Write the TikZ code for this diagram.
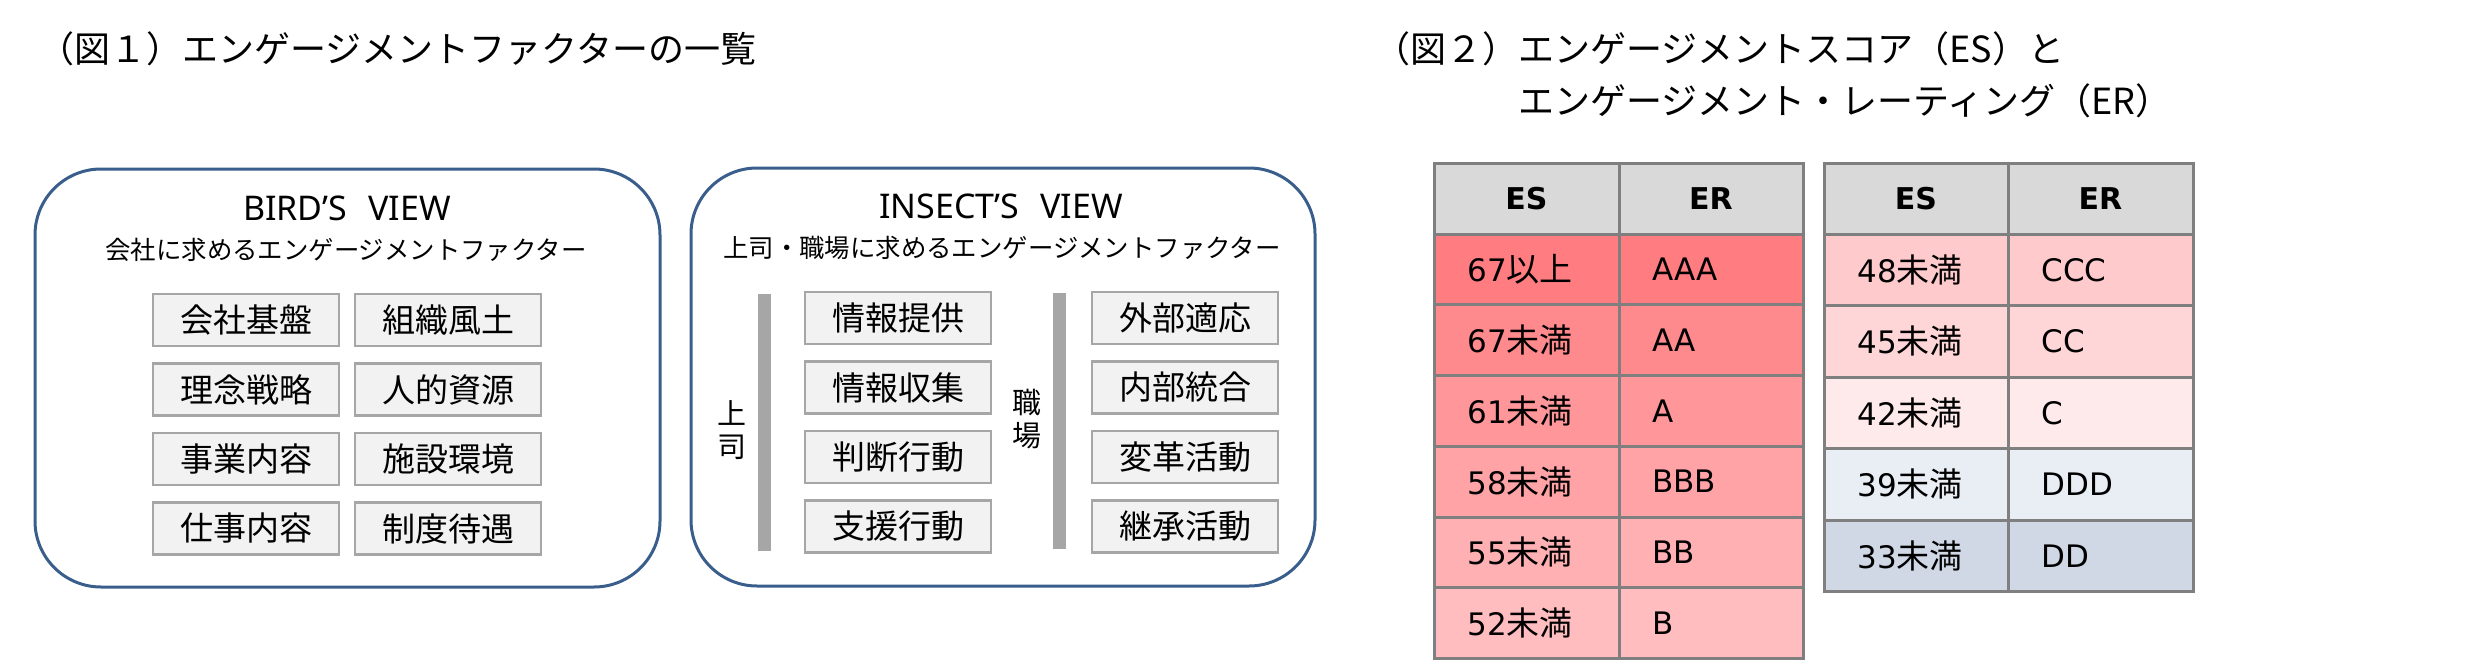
\documentclass[tikz,border=0pt]{standalone}
\usepackage{fontspec}
\newfontfamily\jpf{Noto Sans CJK JP}
\newfontfamily\latf{Noto Sans}
\newfontfamily\dvf{DejaVu Sans}
\definecolor{boxblue}{HTML}{3A5E8C}
\definecolor{boxgray}{HTML}{A6A6A6}
\definecolor{boxfill}{HTML}{F2F2F2}
\definecolor{bargray}{HTML}{A6A6A6}
\definecolor{tblgray}{HTML}{7F7F7F}
\definecolor{hdr}{HTML}{D9D9D9}
\definecolor{r1}{HTML}{FF7C80}
\definecolor{r2}{HTML}{FF8A8E}
\definecolor{r3}{HTML}{FF979A}
\definecolor{r4}{HTML}{FFA3A6}
\definecolor{r5}{HTML}{FFB0B3}
\definecolor{r6}{HTML}{FFBDBF}
\definecolor{r7}{HTML}{FFCACC}
\definecolor{r8}{HTML}{FFD6D7}
\definecolor{r9}{HTML}{FFEAEB}
\definecolor{r10}{HTML}{E9EDF4}
\definecolor{r11}{HTML}{D0D8E6}
\begin{document}
\begin{tikzpicture}[x=0.5pt,y=-0.5pt,
  outerbox/.style={draw=boxblue, line width=1.5pt, rounded corners=33pt, inner sep=0pt, minimum height=209pt},
  factor/.style={draw=boxgray, fill=boxfill, line width=1.1pt, minimum width=93pt, minimum height=26pt, inner sep=0pt, font=\jpf\fontsize{16.5pt}{18pt}\selectfont},
  vbar/.style={fill=bargray, draw=none, inner sep=0pt, minimum width=6.5pt},
  viewtitle/.style={anchor=base, inner sep=0pt, font=\latf\fontsize{17pt}{18pt}\selectfont},
  viewsub/.style={anchor=base, inner sep=0pt, font=\jpf\fontsize{12.7pt}{14pt}\selectfont},
  sidelabel/.style={inner sep=0pt, align=center, font=\jpf\fontsize{14.5pt}{16.5pt}\selectfont},
  maintitle/.style={anchor=base west, inner sep=0pt, font=\jpf\fontsize{18pt}{20pt}\selectfont},
  cell/.style={draw=tblgray, line width=1.5pt, inner sep=0pt},
  hcell/.style={cell, fill=hdr, minimum height=35.5pt, font=\dvf\bfseries\fontsize{15pt}{18pt}\selectfont},
  celltext/.style={anchor=west, inner sep=0pt, font=\dvf\fontsize{15.5pt}{18pt}\selectfont}
]
\useasboundingbox (0,0) rectangle (2475,669);

% titles
\node[maintitle] (title1) at (38,62) {（図１）エンゲージメントファクターの一覧};
\node[maintitle] (title2a) at (1374,62) {（図２）エンゲージメントスコア（ES）と};
\node[maintitle] (title2b) at (1518,114) {エンゲージメント・レーティング（ER）};

% outer boxes
\node[outerbox, minimum width=312.5pt] (bird) at (347.5,378) {};
\node[outerbox, minimum width=312pt] (insect) at (1003,377) {};

\node[viewtitle] (birdtitle) at (347,220) {BIRD’S\hspace{10.5pt}VIEW};
\node[viewsub] (birdsub) at (346,259) {会社に求めるエンゲージメントファクター};
\node[viewtitle] (insecttitle) at (1001,218) {INSECT’S\hspace{10.5pt}VIEW};
\node[viewsub] (insectsub) at (1002,257) {上司・職場に求めるエンゲージメントファクター};

% bird factors
\node[factor] (b11) at (246,320) {会社基盤};
\node[factor] (b12) at (448,320) {組織風土};
\node[factor] (b21) at (246,389.5) {理念戦略};
\node[factor] (b22) at (448,389.5) {人的資源};
\node[factor] (b31) at (246,459) {事業内容};
\node[factor] (b32) at (448,459) {施設環境};
\node[factor] (b41) at (246,528.5) {仕事内容};
\node[factor] (b42) at (448,528.5) {制度待遇};

% insect factors
\node[vbar, minimum height=128.5pt] (bossbar) at (764,422.5) {};
\node[sidelabel] (bosslabel) at (732,430) {上\\司};
\node[vbar, minimum height=128pt] (workbar) at (1059,421) {};
\node[sidelabel] (worklabel) at (1027,419) {職\\場};

\node[factor] (i11) at (898,318) {情報提供};
\node[factor] (i21) at (898,387.5) {情報収集};
\node[factor] (i31) at (898,457) {判断行動};
\node[factor] (i41) at (898,526.5) {支援行動};
\node[factor] (i12) at (1185,318) {外部適応};
\node[factor] (i22) at (1185,387.5) {内部統合};
\node[factor] (i32) at (1185,457) {変革活動};
\node[factor] (i42) at (1185,526.5) {継承活動};

% left table
\node[hcell, minimum width=92.5pt] (Lh1) at (1526.5,198.5) {ES};
\node[hcell, minimum width=92pt] (Lh2) at (1711,198.5) {ER};
\foreach \ii/\cc/\nn/\kk/\rr in {1/r1/67/以上/AAA,2/r2/67/未満/AA,3/r3/61/未満/A,4/r4/58/未満/BBB,5/r5/55/未満/BB,6/r6/52/未満/B}{
  \node[cell, fill=\cc, minimum width=92.5pt, minimum height=35.375pt] (Les\ii) at (1526.5,{234+(\ii-0.5)*70.75}) {};
  \node[cell, fill=\cc, minimum width=92pt, minimum height=35.375pt] (Ler\ii) at (1711,{234+(\ii-0.5)*70.75}) {};
  \node[celltext] (Lest\ii) at (1467,{234+(\ii-0.5)*70.75}) {\nn{\jpf\fontsize{16.5pt}{18pt}\selectfont\kk}};
  \node[celltext] (Lert\ii) at (1652,{234+(\ii-0.5)*70.75}) {\rr};
}

% right table
\node[hcell, minimum width=92pt] (Rh1) at (1916,198.5) {ES};
\node[hcell, minimum width=92.5pt] (Rh2) at (2100.5,198.5) {ER};
\foreach \ii/\cc/\nn/\kk/\rr in {1/r7/48/未満/CCC,2/r8/45/未満/CC,3/r9/42/未満/C,4/r10/39/未満/DDD,5/r11/33/未満/DD}{
  \node[cell, fill=\cc, minimum width=92pt, minimum height=35.75pt] (Res\ii) at (1916,{234+(\ii-0.5)*71.5}) {};
  \node[cell, fill=\cc, minimum width=92.5pt, minimum height=35.75pt] (Rer\ii) at (2100.5,{234+(\ii-0.5)*71.5}) {};
  \node[celltext] (Rest\ii) at (1857,{234+(\ii-0.5)*71.5}) {\nn{\jpf\fontsize{16.5pt}{18pt}\selectfont\kk}};
  \node[celltext] (Rert\ii) at (2041,{234+(\ii-0.5)*71.5}) {\rr};
}
\end{tikzpicture}
\end{document}
